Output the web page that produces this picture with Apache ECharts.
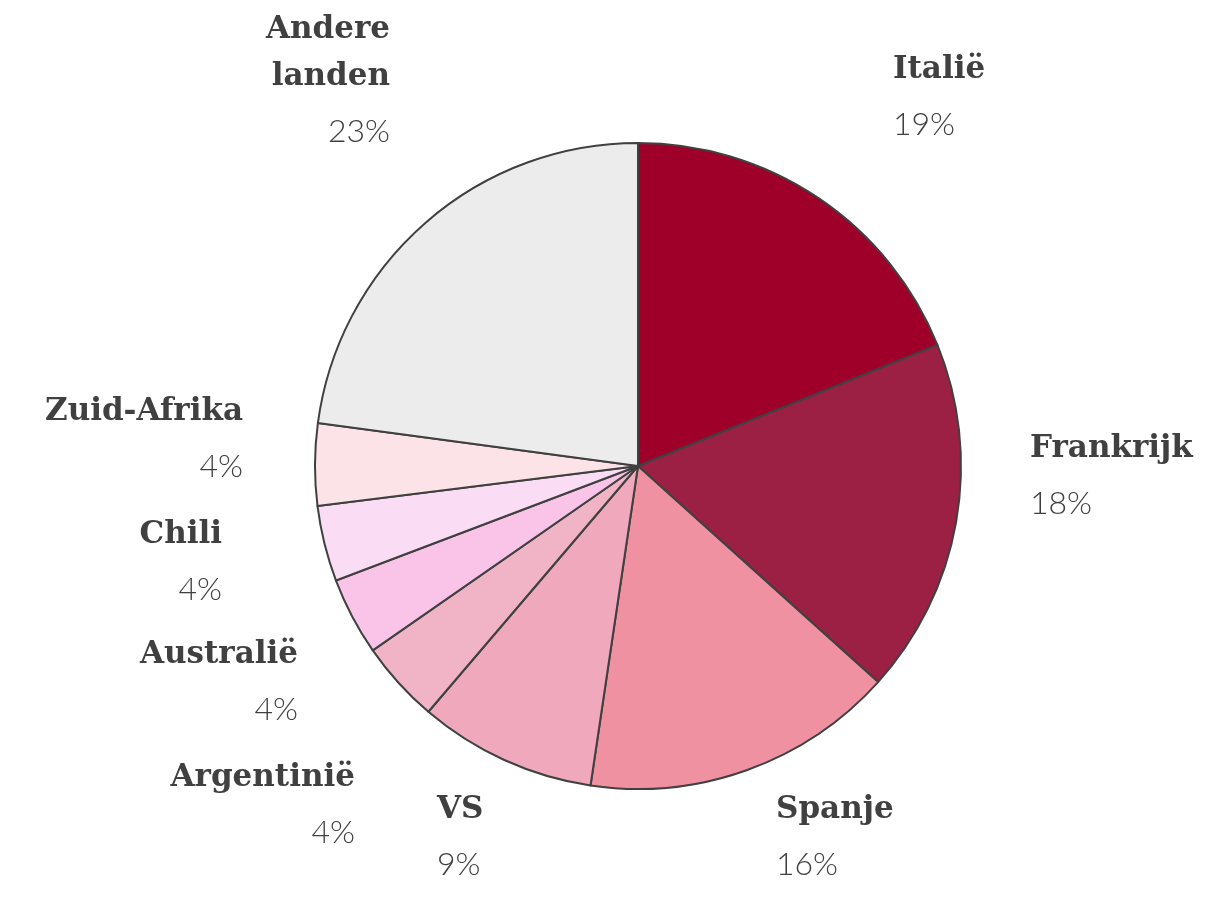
<!DOCTYPE html>
<html>
<head>
<meta charset="utf-8">
<script src="https://cdn.jsdelivr.net/npm/echarts@6/dist/echarts.min.js"></script>
<style>
  html, body { margin: 0; padding: 0; background: #fff; }
  #chart { width: 1209px; height: 911px; }
</style>
</head>
<body>
<div id="chart"></div>
<script>
var landen = ['Italië', 'Frankrijk', 'Spanje', 'VS', 'Argentinië', 'Australië', 'Chili', 'Zuid-Afrika', 'Andere landen'];
var aandeel = [18.9, 17.8, 15.7, 8.9, 4.1, 3.9, 3.8, 4.1, 22.9];
var kleuren = ['#9e0029', '#9b2044', '#f091a2', '#f0a8bd', '#f0b4c6', '#fac3e8', '#fadcf5', '#fbe3e8', '#ececec'];

// plek van de labels (bovenkant blok), zoals in het origineel
var labelPos = [
  [893, 46, 'left'], [1030, 425, 'left'], [776, 786, 'left'], [437, 786, 'left'],
  [355, 754, 'right'], [298, 631, 'right'], [222, 511, 'right'], [243, 388, 'right'],
  [390, 6, 'right']
];

var myChart = echarts.init(document.getElementById('chart'));

var data = landen.map(function (n, i) {
  return { name: n, value: aandeel[i], itemStyle: { color: kleuren[i] } };
});

var option = {
  animation: false,
  series: [{
    type: 'pie',
    center: [638, 466],
    radius: 323,
    startAngle: 90,
    clockwise: true,
    avoidLabelOverlap: false,
    data: data,
    itemStyle: {
      borderColor: '#404040',
      borderWidth: 2
    },
    label: {
      position: 'outside',
      color: '#404040',
      formatter: function (p) {
        return '{n|' + p.name.replace(' ', '\n') + '}\n{p|' + Math.round(p.value) + '%}';
      },
      rich: {
        n: {
          fontFamily: 'DejaVu Serif',
          fontWeight: 'bold',
          fontSize: 31,
          lineHeight: 47,
          color: '#404040'
        },
        p: {
          fontFamily: 'Lato',
          fontWeight: 300,
          fontSize: 32,
          lineHeight: 63,
          color: '#404040'
        }
      }
    },
    labelLine: { show: false },
    labelLayout: function (p) {
      var lp = labelPos[p.dataIndex];
      return { x: lp[0], y: lp[1], align: lp[2], verticalAlign: 'top' };
    }
  }]
};

myChart.setOption(option);
</script>
</body>
</html>
